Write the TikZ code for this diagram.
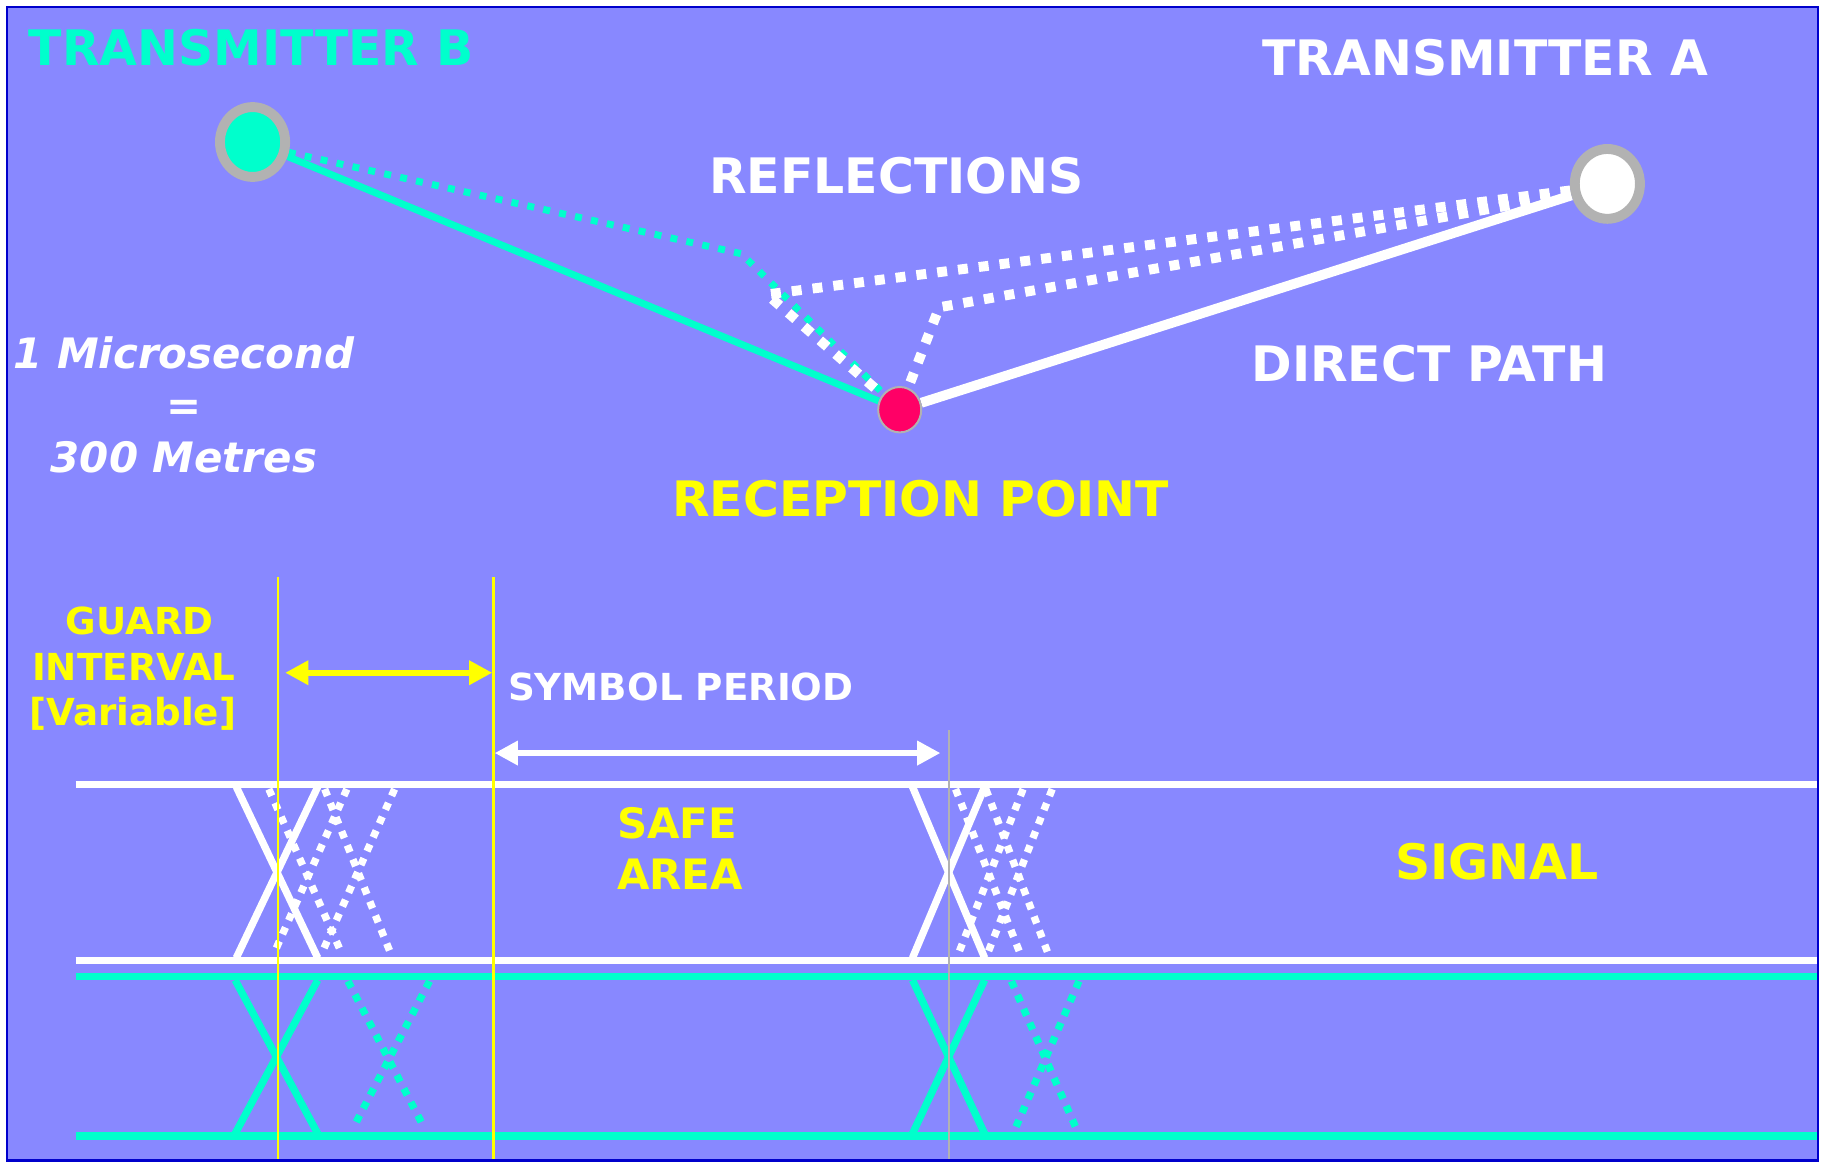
\documentclass[tikz,border=0pt]{standalone}
\usepackage{fontspec}
\setmainfont{DejaVu Sans}
\usetikzlibrary{arrows.meta,shapes.geometric}
\definecolor{bgblue}{RGB}{136,136,255}
\definecolor{frameblue}{RGB}{0,0,204}
\definecolor{aqua}{RGB}{0,255,204}
\definecolor{yel}{RGB}{255,255,0}
\definecolor{pinkred}{RGB}{255,0,102}
\definecolor{ringgray}{RGB}{178,178,178}
\pgfdeclarelayer{back}
\pgfdeclarelayer{mid}
\pgfsetlayers{back,mid,main}
\begin{document}
\begin{tikzpicture}[x=1pt,y=-1pt,
  bigtxt/.style={font=\fontsize{42}{50}\selectfont\bfseries, inner sep=0pt, anchor=base},
  midtxt/.style={font=\fontsize{36}{44}\selectfont\bfseries, inner sep=0pt, anchor=base},
  smalltxt/.style={font=\fontsize{32}{39}\selectfont\bfseries, inner sep=0pt, anchor=base},
  italtxt/.style={font=\fontsize{36}{44}\selectfont\bfseries\itshape, inner sep=0pt, anchor=base, text=white},
  txnode/.style={ellipse, draw=ringgray, line width=8.5pt, minimum width=56pt, minimum height=60pt, inner sep=0pt},
  rxnode/.style={ellipse, draw=ringgray, line width=1.7pt, fill=pinkred, minimum width=37pt, minimum height=39pt, inner sep=0pt},
  dotW/.style={white, line width=8.5pt, dash pattern=on 8.5pt off 9.5pt},
  dotC/.style={aqua, line width=6pt, dash pattern=on 6pt off 8pt},
  solidW/.style={white, line width=8.5pt},
  solidC/.style={aqua, line width=6pt},
  sigW/.style={white, line width=6.3pt},
  sigC/.style={aqua, line width=6.3pt},
  sigdotW/.style={white, line width=6.3pt, dash pattern=on 6.3pt off 6.7pt},
  sigdotC/.style={aqua, line width=6.3pt, dash pattern=on 6.3pt off 6.7pt},
  hlineW/.style={white, line width=6.3pt},
  hlineC/.style={aqua, line width=6.3pt},
  vlineY/.style={yel, line width=1.8pt},
  vlineG/.style={ringgray, line width=1.8pt},
  dblarrow/.style={line width=5.5pt, {Triangle[length=20pt,width=20pt]}-{Triangle[length=20pt,width=20pt]}}
]
\useasboundingbox (0,0) rectangle (1568,999.2);
\begin{pgfonlayer}{back}
  \fill[white] (0,0) rectangle (1568,999.2);
  \draw[fill=bgblue, draw=frameblue, line width=2pt] (6,6) rectangle (1562,997);
\end{pgfonlayer}

% transmitters and reception point
\node[txnode, fill=aqua] (txB) at (217,122) {};
\node[txnode, fill=white] (txA) at (1381,158) {};
\node[rxnode] (rx) at (773,352) {};

% bend points of reflections
\coordinate (cb) at (637,218);
\coordinate (w1) at (659,253);
\coordinate (w2) at (807,264);

\begin{pgfonlayer}{mid}
  \draw[dotC] (txB.-16) -- (cb) -- (rx.center);
  \draw[dotW] (txA.190) -- (w1) -- (rx.center);
  \draw[dotW] (txA.196) -- (w2) -- (rx.center);
  \draw[solidC] (txB) -- (rx);
  \draw[solidW] (rx) -- (txA);
\end{pgfonlayer}

% top labels
\node[bigtxt, text=aqua] (lblB) at (216,56) {TRANSMITTER B};
\node[bigtxt, text=white] (lblA) at (1276,65) {TRANSMITTER A};
\node[bigtxt, text=white] (lblRef) at (770,166) {REFLECTIONS};
\node[bigtxt, text=white] (lblDir) at (1228,328) {DIRECT PATH};
\node[bigtxt, text=yel] (lblRx) at (791,444) {RECEPTION POINT};
\node[italtxt] (lblMic) at (158,317) {1 Microsecond};
\node[italtxt] (lblEq) at (158,361) {=};
\node[italtxt] (lblMet) at (158,406) {300 Metres};

% lower part: signal bands
\draw[hlineW] (65,674) -- (1561,674);
\draw[hlineW] (65,825) -- (1561,825);
\draw[hlineC] (65,839) -- (1561,839);
\draw[hlineC] (65,976) -- (1561,976);

% first symbol boundary
\draw[sigW] (203,676) -- (273,823);
\draw[sigW] (273,676) -- (203,823);
\draw[sigdotW] (231,678) -- (294,820);
\draw[sigdotW] (298,678) -- (235,820);
\draw[sigdotW] (279,678) -- (336,820);
\draw[sigdotW] (339,678) -- (276,820);
\draw[sigC] (202,842) -- (273,974);
\draw[sigC] (273,842) -- (202,974);
\draw[sigdotC] (299,843) -- (364,968);
\draw[sigdotC] (369,843) -- (304,968);

% second symbol boundary
\draw[sigW] (784,676) -- (846,823);
\draw[sigW] (846,676) -- (784,823);
\draw[sigdotW] (821,678) -- (876,818);
\draw[sigdotW] (847,678) -- (900,818);
\draw[sigdotW] (879,678) -- (824,818);
\draw[sigdotW] (904,678) -- (849,818);
\draw[sigC] (784,842) -- (846,974);
\draw[sigC] (846,842) -- (784,974);
\draw[sigdotC] (869,843) -- (924,968);
\draw[sigdotC] (927,843) -- (873,968);

% vertical markers
\draw[vlineY] (238.5,496) -- (238.5,996);
\draw[vlineY] (424,496) -- (424,996);
\draw[vlineG] (815,627) -- (815,996);

% arrows
\coordinate (ga1) at (245,578);
\coordinate (ga2) at (423,578);
\coordinate (sa1) at (425,647);
\coordinate (sa2) at (808,647);
\draw[dblarrow, yel] (ga1) -- (ga2);
\draw[dblarrow, white] (sa1) -- (sa2);

% lower labels
\node[smalltxt, text=yel] (lblG1) at (120,545) {GUARD};
\node[smalltxt, text=yel] (lblG2) at (115,585) {INTERVAL};
\node[smalltxt, text=yel] (lblG3) at (114,623) {[Variable]};
\node[smalltxt, text=white] (lblSym) at (585,602) {SYMBOL PERIOD};
\node[midtxt, text=yel, anchor=base west] (lblSafe) at (530,720) {SAFE};
\node[midtxt, text=yel, anchor=base west] (lblArea) at (530,764) {AREA};
\node[bigtxt, text=yel] (lblSig) at (1286,756) {SIGNAL};
\end{tikzpicture}
\end{document}
